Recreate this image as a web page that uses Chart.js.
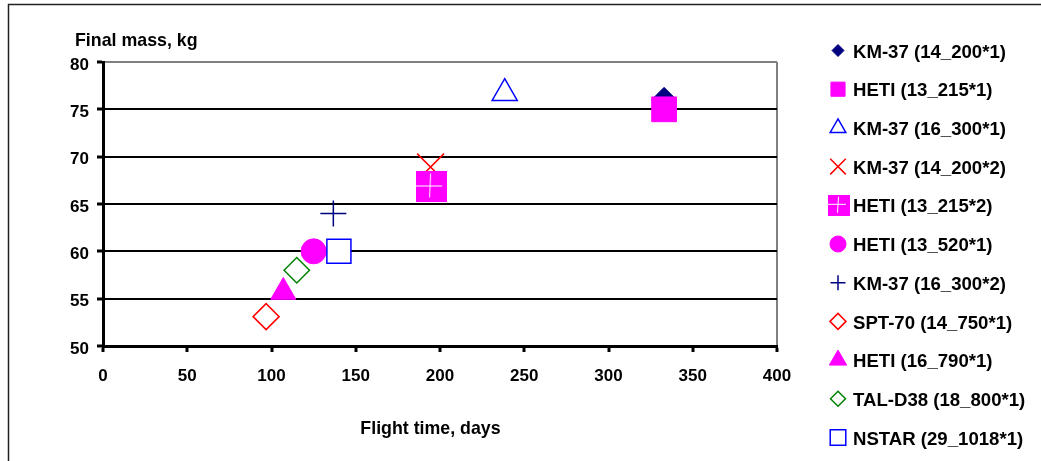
<!DOCTYPE html>
<html>
<head>
<meta charset="utf-8">
<script src="https://cdn.jsdelivr.net/npm/chart.js@4.4.1/dist/chart.umd.min.js"></script>
<style>
  html, body { margin: 0; padding: 0; background: #fff; }
  #wrap { width: 1041px; height: 461px; }
</style>
</head>
<body>
<div id="wrap"><canvas id="mass_chart" width="1041" height="461"></canvas></div>
<script>
// engine variants, as listed in the legend
const engineLabels = [
  'KM-37 (14_200*1)', 'HETI (13_215*1)', 'KM-37 (16_300*1)', 'KM-37 (14_200*2)',
  'HETI (13_215*2)', 'HETI (13_520*1)', 'KM-37 (16_300*2)', 'SPT-70 (14_750*1)',
  'HETI (16_790*1)', 'TAL-D38 (18_800*1)', 'NSTAR (29_1018*1)'
];
// flight time, days
const flightTime = [333, 333, 238.4, 194.4, 195, 125, 136.7, 96.8, 107, 115, 140];
// final mass, kg
const finalMass = [76, 75, 76.7, 68.9, 66.8, 60, 64, 53.1, 55.7, 58, 60];

const xTicks = [0, 50, 100, 150, 200, 250, 300, 350, 400];
const yTicks = [50, 55, 60, 65, 70, 75, 80];
const xTitle = 'Flight time, days';
const yTitle = 'Final mass, kg';

const MAGENTA = '#ff00ff', NAVY = '#000080', BLUE = '#0000ff', RED = '#ff0000', GREEN = '#008000';
const FONT = "'Liberation Sans', Arial, sans-serif";

// magenta square with a thin white cross (HETI 13_215*2)
function crossSquare(w, h) {
  var c = document.createElement('canvas');
  c.width = w; c.height = h;
  var g = c.getContext('2d');
  g.fillStyle = MAGENTA;
  g.fillRect(0, 0, w, h);
  g.strokeStyle = '#fff';
  g.lineWidth = 1;
  g.beginPath();
  g.moveTo(0, Math.round(h * 0.45) + 0.5);
  g.lineTo(Math.round(w * 0.83), Math.round(h * 0.45) + 0.5);
  g.moveTo(Math.round(w * 0.45) + 0.5, Math.round(h * 0.08));
  g.lineTo(Math.round(w * 0.43) + 0.5, Math.round(h * 0.85));
  g.stroke();
  return c;
}

// marker look per series: chart radius r, legend radius lr
const markers = [
  {style: 'rectRot', r: 12.5, lr: 6, fill: NAVY, line: NAVY, w: 1},
  {style: 'rect', r: 17.5, lr: 10, fill: MAGENTA, line: MAGENTA, w: 1},
  {style: 'triangle', r: 14.5, lr: 9, fill: '#fff', line: BLUE, w: 1.5},
  {style: 'crossRot', r: 19, lr: 11, fill: RED, line: RED, w: 1.5},
  {style: crossSquare(31, 31), legend: crossSquare(22, 21), fill: MAGENTA, line: MAGENTA, w: 0},
  {style: 'circle', r: 12.5, lr: 8, fill: MAGENTA, line: MAGENTA, w: 1},
  {style: 'cross', r: 13, lr: 7.5, fill: NAVY, line: NAVY, w: 1.5},
  {style: 'rectRot', r: 13, lr: 8, fill: '#fff', line: RED, w: 1.5},
  {style: 'triangle', r: 14.5, lr: 10, fill: MAGENTA, line: MAGENTA, w: 1},
  {style: 'rectRot', r: 12.7, lr: 7.5, fill: '#fff', line: GREEN, w: 1.5},
  {style: 'rect', r: 17, lr: 11, fill: '#fff', line: BLUE, w: 1.5}
];

var datasets = engineLabels.map(function(label, i) {
  var m = markers[i];
  return {
    label: label,
    data: [{x: flightTime[i], y: finalMass[i]}],
    pointStyle: m.style,
    pointRadius: m.r || 16,
    pointHoverRadius: m.r || 16,
    pointBackgroundColor: m.fill,
    pointBorderColor: m.line,
    pointBorderWidth: m.w,
    order: engineLabels.length - i   // later series on top, as in the original
  };
});

// outer frame of the picture
const frame = {
  id: 'frame',
  beforeDraw: function(chart) {
    var ctx = chart.ctx;
    ctx.save();
    ctx.strokeStyle = '#222';
    ctx.lineWidth = 1.5;
    ctx.strokeRect(8.5, 4.5, 1200, 600);
    ctx.restore();
  }
};

// axis titles placed like the spreadsheet chart
const axisTitles = {
  id: 'axisTitles',
  afterDraw: function(chart) {
    var ctx = chart.ctx;
    ctx.save();
    ctx.fillStyle = '#000';
    ctx.font = 'bold 17.8px ' + FONT;
    ctx.textBaseline = 'alphabetic';
    ctx.textAlign = 'left';
    ctx.fillText(yTitle, 75, 46);
    ctx.textAlign = 'center';
    ctx.fillText(xTitle, 430.5, 434);
    ctx.restore();
  }
};

// legend column on the right
const sideLegend = {
  id: 'sideLegend',
  afterDraw: function(chart) {
    var ctx = chart.ctx;
    var markX = 838, textX = 853, top = 52.5, step = 38.7;
    ctx.save();
    chart.data.datasets.forEach(function(ds, i) {
      var m = markers[i];
      var y = top + i * step;
      if (m.legend) {
        ctx.drawImage(m.legend, markX - m.legend.width / 2 + 1, y - 2 - m.legend.height / 2);
      } else {
        ctx.fillStyle = m.fill;
        ctx.strokeStyle = m.line;
        ctx.lineWidth = m.w;
        Chart.helpers.drawPoint(ctx, {pointStyle: m.style, radius: m.lr, borderWidth: m.w, rotation: 0}, markX, y - 2);
      }
      ctx.fillStyle = '#000';
      ctx.font = 'bold 18.6px ' + FONT;
      ctx.textAlign = 'left';
      ctx.textBaseline = 'middle';
      ctx.fillText(ds.label, textX, y);
    });
    ctx.restore();
  }
};

Chart.defaults.color = '#000';
Chart.defaults.font.family = FONT;

const mass_chart = new Chart(document.getElementById('mass_chart'), {
  type: 'scatter',
  data: {datasets: datasets},
  options: {
    responsive: false,
    animation: false,
    layout: {padding: {left: 0, top: 62, right: 264, bottom: 75}},
    plugins: {
      legend: {display: false},
      tooltip: {enabled: false}
    },
    scales: {
      x: {
        type: 'linear',
        min: xTicks[0],
        max: xTicks[xTicks.length - 1],
        afterFit: function(scale) { scale.height = 40; },
        ticks: {
          stepSize: xTicks[1] - xTicks[0],
          padding: 14,
          font: {size: 17, weight: 'bold'}
        },
        grid: {
          color: function(c) { return c.tick && c.tick.value === xTicks[xTicks.length - 1] ? '#808080' : 'rgba(0,0,0,0)'; },
          lineWidth: 2,
          tickColor: '#000',
          tickWidth: 3,
          tickLength: 6
        },
        border: {color: '#000', width: 3}
      },
      y: {
        type: 'linear',
        min: yTicks[0],
        max: yTicks[yTicks.length - 1],
        afterFit: function(scale) { scale.width = 103; },
        ticks: {
          stepSize: yTicks[1] - yTicks[0],
          padding: 8,
          labelOffset: 3,
          font: {size: 17, weight: 'bold'}
        },
        grid: {
          color: function(c) { return c.tick && c.tick.value === yTicks[yTicks.length - 1] ? '#808080' : '#000'; },
          lineWidth: 2,
          tickColor: '#000',
          tickWidth: 3,
          tickLength: 6
        },
        border: {color: '#000', width: 3}
      }
    }
  },
  plugins: [frame, axisTitles, sideLegend]
});
</script>
</body>
</html>
